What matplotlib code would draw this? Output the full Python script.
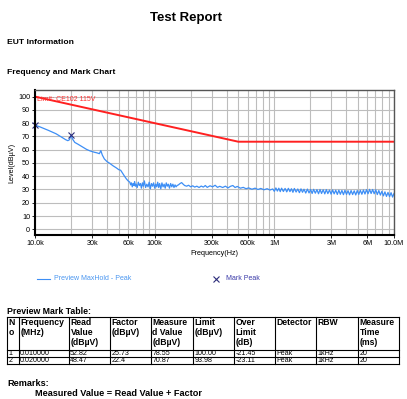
import numpy as np
import matplotlib.pyplot as plt

plt.rcParams['font.family'] = ['Liberation Sans', 'DejaVu Sans']

# preview trace (frequency in kHz, level in dBuV)
trace_freq = [10, 11, 12, 13, 14, 15, 16, 17, 18, 18.8, 19.4, 20, 20.6, 21.5, 23, 25, 27, 29, 31, 33,
              34.5, 35.5, 36.5, 38, 40, 42, 45, 48, 50, 52, 54, 56, 58, 60, 62,
              63, 64, 65, 66, 67, 68, 69, 70, 71.5, 73, 74.5, 76, 77.5, 79, 80.5, 82, 84, 86, 88, 90,
              92, 94, 96, 98, 100, 102, 104, 106, 108, 110, 112.5, 115, 117.5, 120, 122.5, 125, 127.5,
              130, 133, 136, 139, 142, 145, 148, 151, 154,
              158, 163, 168, 173, 178, 185, 192, 200, 208, 216, 225, 235, 245, 255, 265, 275, 290,
              305, 320, 335, 350, 370, 390, 410, 430, 450, 470, 490, 520, 550, 580, 610, 650, 690,
              730, 770, 820, 870, 920, 970,
              1000, 1030, 1060, 1090, 1120, 1150, 1190, 1230, 1270, 1310, 1350, 1390, 1430, 1470,
              1520, 1570, 1620, 1670, 1720, 1770, 1830, 1890, 1950, 2010, 2070, 2130, 2200, 2270,
              2340, 2410, 2480, 2560, 2640, 2720, 2800, 2890, 2980, 3070, 3160, 3260, 3360, 3460,
              3560, 3670, 3780, 3890, 4010, 4130, 4250, 4380, 4510, 4650, 4790, 4930, 5080, 5230,
              5390, 5550, 5720, 5890, 6070, 6250, 6440, 6630, 6830, 7040, 7250, 7470, 7690, 7920,
              8160, 8400, 8650, 8910, 9180, 9450, 9730, 10000]
trace_level = [78.5, 77.2, 75.8, 74.5, 73.2, 72.0, 70.5, 69.0, 67.6, 66.8, 67.5, 70.9, 68.0, 65.5, 64.0, 62.0, 60.2, 59.0, 58.2, 57.6,
               57.0, 59.3, 56.0, 53.0, 51.0, 49.8, 47.8, 46.2, 45.0, 44.5, 42.2, 40.0, 38.0, 36.5, 35.5,
               33.5, 35.0, 32.0, 34.5, 33.0, 36.0, 32.5, 34.0, 31.5, 35.5, 33.0, 34.5, 31.0, 35.0, 32.5, 36.5, 31.5, 34.0, 32.0, 35.5,
               30.5, 34.5, 32.5, 35.0, 31.0, 34.0, 32.0, 35.5, 31.5, 34.5, 30.5, 35.0, 32.0, 34.0, 31.0, 35.0, 32.5,
               34.0, 31.0, 34.5, 32.0, 34.0, 31.5, 33.5, 32.0, 33.0,
               33.5, 34.5, 35.2, 34.0, 33.0, 32.5, 33.2, 32.0, 32.8, 31.8, 32.5, 31.5, 32.6, 31.8, 33.0, 31.6, 32.8,
               32.0, 33.2, 31.6, 32.4, 31.5, 32.5, 31.2, 32.4, 33.0, 31.5, 32.3, 31.0, 31.6, 30.6, 31.2, 30.2, 31.0,
               30.0, 30.8, 29.8, 30.6, 29.6, 30.4,
               28.6, 31.2, 28.8, 31.0, 28.4, 31.0, 28.5, 30.8, 28.2, 30.9, 28.4, 30.6, 27.9, 30.8,
               28.1, 30.4, 27.6, 30.5, 27.9, 30.2, 27.3, 30.3, 27.4, 30.0, 27.0, 30.1, 27.2, 29.9,
               26.8, 30.0, 27.0, 29.8, 26.7, 29.9, 26.9, 29.6, 26.5, 29.7, 26.7, 29.5, 26.3, 29.5,
               26.4, 29.3, 26.1, 29.4, 26.3, 29.1, 26.0, 29.2, 26.2, 29.0, 25.9, 29.2, 26.3, 29.4,
               26.4, 29.6, 26.6, 29.9, 26.8, 30.1, 27.0, 30.0, 26.8, 29.8, 26.2, 29.2, 25.8, 28.6,
               25.2, 28.2, 24.8, 27.8, 24.6, 27.6, 24.3, 27.0]

limit_freq = [10, 500, 10000]
limit_level = [100, 66.02, 66.02]

mark_freq = [10, 20]
mark_level = [78.55, 70.87]

xtick_vals = [10, 30, 60, 100, 300, 600, 1000, 3000, 6000, 10000]
xtick_labels = ['10.0k', '30k', '60k', '100k', '300k', '600k', '1M', '3M', '6M', '10.0M']

col_headers = [['N', 'o'], ['Frequency', '(MHz)'], ['Read', 'Value', '(dBµV)'], ['Factor', '(dBµV)'],
               ['Measure', 'd Value', '(dBµV)'], ['Limit', '(dBµV)'], ['Over', 'Limit', '(dB)'],
               ['Detector'], ['RBW'], ['Measure', 'Time', '(ms)']]
rows = [['1', '0.010000', '52.82', '25.73', '78.55', '100.00', '-21.45', 'Peak', '1kHz', '20'],
        ['2', '0.020000', '48.47', '22.4', '70.87', '93.98', '-23.11', 'Peak', '1kHz', '20']]

W, H = 407, 399
fig = plt.figure(figsize=(W / 100, H / 100), dpi=100)

# page overlay in pixel coordinates
pg = fig.add_axes([0, 0, 1, 1])
pg.set_xlim(0, W)
pg.set_ylim(H, 0)
pg.axis('off')

pg.text(186, 18, 'Test Report', ha='center', va='center', fontsize=9.5, fontweight='bold')
pg.text(7, 42, 'EUT Information', ha='left', va='center', fontsize=6.1, fontweight='bold')
pg.text(7, 73, 'Frequency and Mark Chart', ha='left', va='center', fontsize=6.1, fontweight='bold')

# chart
ax = fig.add_axes([35 / W, 1 - 235 / H, 359 / W, 145 / H])
ax.set_xscale('log')
ax.plot(trace_freq, trace_level, color='#3d8ef5', lw=0.9)
ax.plot(limit_freq, limit_level, color='#ff2020', lw=1.4)
ax.plot(mark_freq, mark_level, ls='none', marker='x', color='#2c2c7a', ms=4, mew=0.8, clip_on=False)
ax.text(10.3, 97.5, 'Limit: CE102 115V', color='#ff3030', fontsize=5, va='center', ha='left')
ax.set_xlim(10, 10000)
ax.set_ylim(-4.3, 105)
ax.set_yticks(range(0, 101, 10))
ax.set_xticks(xtick_vals)
ax.set_xticklabels(xtick_labels)
ax.xaxis.set_minor_formatter(plt.NullFormatter())
ax.tick_params(labelsize=5.2, length=2, pad=1.5, width=0.6)
ax.tick_params(axis='x', which='minor', length=0)
ax.grid(True, which='both', axis='x', color='#bdbdbd', lw=0.8)
ax.grid(True, which='major', axis='y', color='#bdbdbd', lw=0.8)
ax.set_axisbelow(True)
ax.set_xlabel('Frequency(Hz)', fontsize=5.2, labelpad=2)
ax.set_ylabel('Level(dBµV)', fontsize=5.2, labelpad=2)
for s in ['left', 'bottom']:
    ax.spines[s].set_linewidth(1.5)
    ax.spines[s].set_color('black')
for s in ['top', 'right']:
    ax.spines[s].set_linewidth(1.0)
    ax.spines[s].set_color('#555555')

# legend
pg.plot([37, 50], [278.5, 278.5], color='#3d8ef5', lw=0.8)
pg.text(54, 278.5, 'Preview MaxHold - Peak', color='#4a96f0', fontsize=5, va='center')
pg.plot([216], [279], marker='x', color='#2c2c7a', ms=4, mew=0.8)
pg.text(226, 278.5, 'Mark Peak', color='#3a3aa8', fontsize=5, va='center')

# mark table
pg.text(7, 311, 'Preview Mark Table:', fontsize=6.3, fontweight='bold', va='center')
col_x = [7, 19, 69, 110, 151, 193, 234, 275, 316, 358, 399]
row_y = [317, 350, 356.9, 363.8]
for y in row_y:
    pg.plot([col_x[0], col_x[-1]], [y, y], color='black', lw=0.8)
for x in col_x:
    pg.plot([x, x], [row_y[0], row_y[-1]], color='black', lw=0.8)
for i, head in enumerate(col_headers):
    for k, line in enumerate(head):
        pg.text(col_x[i] + 1.5, 322.7 + 10 * k, line, fontsize=6.2, fontweight='bold',
                va='center', ha='left')
for r, row in enumerate(rows):
    for i, val in enumerate(row):
        pg.text(col_x[i] + 1.2, (row_y[r + 1] + row_y[r + 2]) / 2 + 0.3, val, fontsize=5.1,
                va='center', ha='left')

pg.text(7, 383, 'Remarks:', fontsize=6.6, fontweight='bold', va='center')
pg.text(35, 394, 'Measured Value = Read Value + Factor', fontsize=6.6, fontweight='bold', va='center')

fig.savefig('out.png', dpi=100)
